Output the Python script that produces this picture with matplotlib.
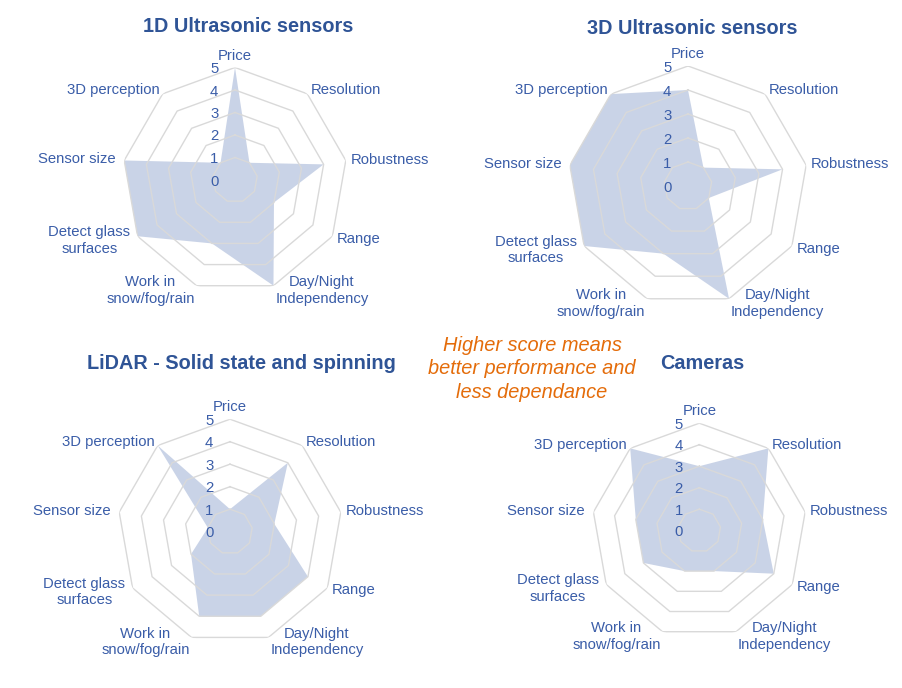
import numpy as np
import matplotlib
matplotlib.use("Agg")
import matplotlib.pyplot as plt

plt.rcParams['font.family'] = ['Liberation Sans', 'DejaVu Sans']

# ---- data ----
categories = ["Price", "Resolution", "Robustness", "Range", "Day/Night\nIndependency",
              "Work in\nsnow/fog/rain", "Detect glass\nsurfaces", "Sensor size", "3D perception"]
tick_values = [0, 1, 2, 3, 4, 5]
titles = ["1D Ultrasonic sensors", "3D Ultrasonic sensors",
          "LiDAR - Solid state and spinning", "Cameras"]
us_1d = [5, 1, 4, 2, 5, 3, 5, 5, 1]
us_3d = [4, 1, 4, 1, 5, 3, 5, 5, 5]
lidar = [1, 4, 2, 4, 4, 4, 2, 1, 5]
cameras = [3, 5, 3, 4, 2, 2, 3, 3, 5]
note = "Higher score means\nbetter performance and\nless dependance"

# ---- style / layout ----
W, H = 903, 688
TITLE_C = '#2F5496'
LABEL_C = '#3A5DA8'
GRID_C = '#d9d9d9'
FILL_C = '#4f6fb0'
NOTE_C = '#E46C0A'

# (center x, center y, radius) in pixels, and title position
panels = [
    (us_1d, (235, 180, 112.5), (248, 27)),
    (us_3d, (688, 186, 120), (692, 29)),
    (lidar, (230, 531.7, 112.5), (241, 363)),
    (cameras, (699.3, 530.7, 107.5), (702, 363)),
]

fig = plt.figure(figsize=(W / 100, H / 100), dpi=100)
fig.patch.set_facecolor('white')

n = len(categories)
theta = np.arange(n) * 2 * np.pi / n
theta_c = np.append(theta, theta[0])
rmax = max(tick_values)

for (vals, (cx, cy, R), (tx, ty)), title in zip(panels, titles):
    ax = fig.add_axes([(cx - R) / W, (H - cy - R) / H, 2 * R / W, 2 * R / H],
                      projection='polar')
    ax.set_theta_offset(np.pi / 2)
    ax.set_theta_direction(-1)
    ax.set_ylim(0, rmax)
    ax.grid(False)
    ax.spines['polar'].set_visible(False)
    ax.set_xticks([])
    ax.set_yticks([])
    ax.patch.set_alpha(0)

    v = np.append(vals, vals[0])
    ax.fill(theta_c, v, color=FILL_C, alpha=0.3, lw=0, zorder=1)
    for k in tick_values[1:]:
        ax.plot(theta_c, [k] * len(theta_c), color=GRID_C, lw=1.0, zorder=2)

    for i, lab in enumerate(categories):
        s, c = np.sin(theta[i]), np.cos(theta[i])
        g = 8.5 if s < -0.5 and c < 0.6 and c > -0.6 else 5.0
        if abs(s) < 0.1:
            ha, va = 'center', 'bottom'
        elif s > 0:
            ha, va = 'left', 'center'
        else:
            ha, va = 'right', 'center'
        ax.annotate(lab, xy=(theta[i], rmax), xytext=(g * s * 0.72, g * c * 0.72),
                    textcoords='offset points', ha=ha, va=va, multialignment='center',
                    color=LABEL_C, fontsize=10.7, annotation_clip=False, linespacing=1.22)

    for k in tick_values:
        ax.annotate(str(k), xy=(0, k), xytext=(-12, 0), textcoords='offset points',
                    ha='right', va='center_baseline', color=LABEL_C, fontsize=10.7,
                    annotation_clip=False)

    fig.text(tx / W, 1 - ty / H, title, ha='center', va='center', fontsize=14.3,
             fontweight='bold', color=TITLE_C)

fig.text(532 / W, 1 - 369 / H, note, ha='center', va='center', fontsize=14.4,
         style='italic', color=NOTE_C, linespacing=1.28)

fig.savefig('out.png', dpi=100, facecolor='white')
